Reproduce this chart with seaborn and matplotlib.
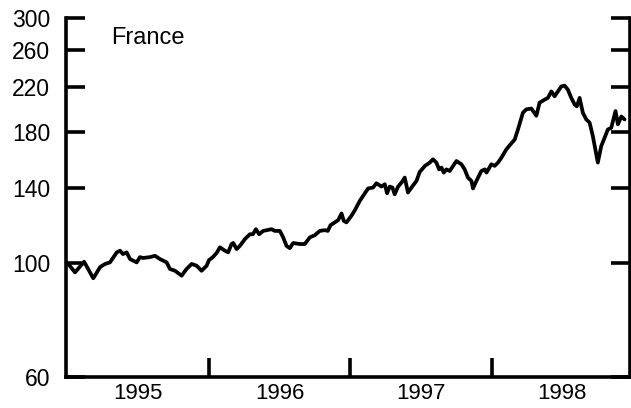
import matplotlib
matplotlib.use("Agg")
import matplotlib.pyplot as plt
import matplotlib.ticker as mticker
import numpy as np
import pandas as pd
import seaborn as sns

# Stock price index, France (January 1995 = 100), dates as decimal years
dates = [
    1995.000, 1995.053, 1995.117, 1995.182, 1995.230, 1995.265, 1995.300, 1995.348, 1995.371, 1995.392,
    1995.418, 1995.442, 1995.489, 1995.512, 1995.534, 1995.583, 1995.618, 1995.654, 1995.701, 1995.724,
    1995.760, 1995.807, 1995.842, 1995.878, 1995.913, 1995.948, 1995.984, 1996.000, 1996.028, 1996.054,
    1996.078, 1996.113, 1996.136, 1996.160, 1996.172, 1996.196, 1996.219, 1996.254, 1996.290, 1996.311,
    1996.332, 1996.355, 1996.384, 1996.443, 1996.466, 1996.502, 1996.525, 1996.549, 1996.572, 1996.596,
    1996.643, 1996.678, 1996.714, 1996.749, 1996.784, 1996.820, 1996.841, 1996.860, 1996.890, 1996.914,
    1996.938, 1996.954, 1996.973, 1997.008, 1997.032, 1997.067, 1997.090, 1997.126, 1997.161, 1997.185,
    1997.221, 1997.244, 1997.260, 1997.279, 1997.298, 1997.314, 1997.338, 1997.362, 1997.385, 1997.408,
    1997.433, 1997.468, 1997.491, 1997.527, 1997.562, 1997.585, 1997.609, 1997.628, 1997.645, 1997.661,
    1997.680, 1997.703, 1997.751, 1997.786, 1997.809, 1997.832, 1997.857, 1997.868, 1997.892, 1997.927,
    1997.951, 1997.963, 1997.998, 1998.021, 1998.045, 1998.069, 1998.104, 1998.139, 1998.163, 1998.186,
    1998.221, 1998.245, 1998.281, 1998.316, 1998.339, 1998.375, 1998.398, 1998.422, 1998.445, 1998.469,
    1998.493, 1998.516, 1998.539, 1998.563, 1998.587, 1998.603, 1998.622, 1998.645, 1998.669, 1998.693,
    1998.716, 1998.751, 1998.775, 1998.799, 1998.822, 1998.846, 1998.876, 1998.893, 1998.917, 1998.940,
]
index_values = [
    100.0, 95.9, 100.6, 93.4, 98.2, 99.6, 100.3, 104.9, 105.7, 104.1,
    104.9, 101.8, 100.3, 102.7, 102.3, 102.7, 103.3, 101.8, 100.3, 97.4,
    96.6, 94.5, 97.4, 99.6, 98.8, 96.6, 98.8, 101.3, 102.7, 104.6,
    107.3, 105.7, 104.9, 108.9, 109.4, 106.5, 108.0, 111.3, 113.8, 113.8,
    116.4, 113.8, 115.5, 116.4, 115.5, 115.5, 112.2, 108.0, 106.9, 109.4,
    108.9, 108.9, 112.2, 113.3, 115.5, 115.9, 115.5, 118.5, 120.0, 121.2,
    124.9, 120.8, 120.0, 123.6, 126.7, 132.1, 135.1, 139.7, 140.3, 143.0,
    140.9, 142.4, 136.7, 140.9, 140.3, 136.1, 140.9, 143.4, 146.7, 137.2,
    140.3, 144.5, 150.4, 154.5, 156.9, 159.2, 156.9, 152.2, 153.4, 150.0,
    152.2, 151.1, 158.0, 155.7, 152.2, 146.7, 144.5, 139.7, 144.5, 151.1,
    152.2, 150.0, 155.7, 154.6, 156.9, 160.4, 166.5, 171.0, 174.0, 182.0,
    196.2, 199.2, 199.9, 193.6, 205.2, 208.1, 209.7, 215.9, 211.2, 215.9,
    220.8, 221.5, 217.6, 209.7, 203.6, 201.9, 209.7, 196.2, 190.4, 187.6,
    176.5, 156.9, 168.9, 175.5, 182.0, 183.4, 197.7, 186.2, 192.9, 190.4,
]
y_ticks = [60, 100, 140, 180, 220, 260, 300]
year_boundaries = [1996, 1997, 1998]
year_labels = ["1995", "1996", "1997", "1998"]
country = "France"

df = pd.DataFrame({"date": dates, "index": index_values})

sns.set_theme(style="ticks")
plt.rcParams["font.family"] = ["Liberation Sans", "DejaVu Sans"]

fig = plt.figure(figsize=(6.31, 4.08), dpi=100)
ax = fig.add_axes([66 / 631, 31 / 408, 563.5 / 631, 359 / 408])

sns.lineplot(data=df, x="date", y="index", ax=ax, color="black",
             linewidth=2.7, estimator=None, sort=False)

ax.set_yscale("log")
ax.set_ylim(60, 300)
ax.set_xlim(1994.989, 1998.975)

# y axis: ticks on both sides, pointing inwards
ax.yaxis.set_major_locator(mticker.FixedLocator(y_ticks))
ax.yaxis.set_major_formatter(mticker.FixedFormatter([str(v) for v in y_ticks]))
ax.yaxis.set_minor_locator(mticker.NullLocator())
ax.tick_params(axis="y", which="major", direction="in", length=13.5, width=2.6,
               left=True, right=True, labelleft=True, labelright=False,
               labelsize=16.5, pad=11.5, colors="black")
for tk in ax.yaxis.get_major_ticks():
    if tk.get_loc() == 300:
        tk.tick1line.set_markersize(28)
        tk.tick2line.set_markersize(26)

# x axis: ticks at year boundaries, labels centred in each year
ax.xaxis.set_major_locator(mticker.FixedLocator(year_boundaries))
ax.xaxis.set_major_formatter(mticker.NullFormatter())
ax.xaxis.set_minor_locator(mticker.FixedLocator([int(y) + 0.5 for y in year_labels]))
ax.xaxis.set_minor_formatter(mticker.FixedFormatter(year_labels))
ax.tick_params(axis="x", which="major", direction="in", length=13.5, width=2.6,
               colors="black")
ax.tick_params(axis="x", which="minor", length=0, labelsize=16, pad=4.5,
               colors="black")

for side in ["left", "bottom", "right"]:
    ax.spines[side].set_linewidth(2.6)
    ax.spines[side].set_color("black")
ax.spines["top"].set_visible(False)

ax.set_xlabel("")
ax.set_ylabel("")
ax.text(0.08, 0.975, country, transform=ax.transAxes, ha="left", va="top",
        fontsize=17, color="black")

fig.savefig("out.png", dpi=100)
